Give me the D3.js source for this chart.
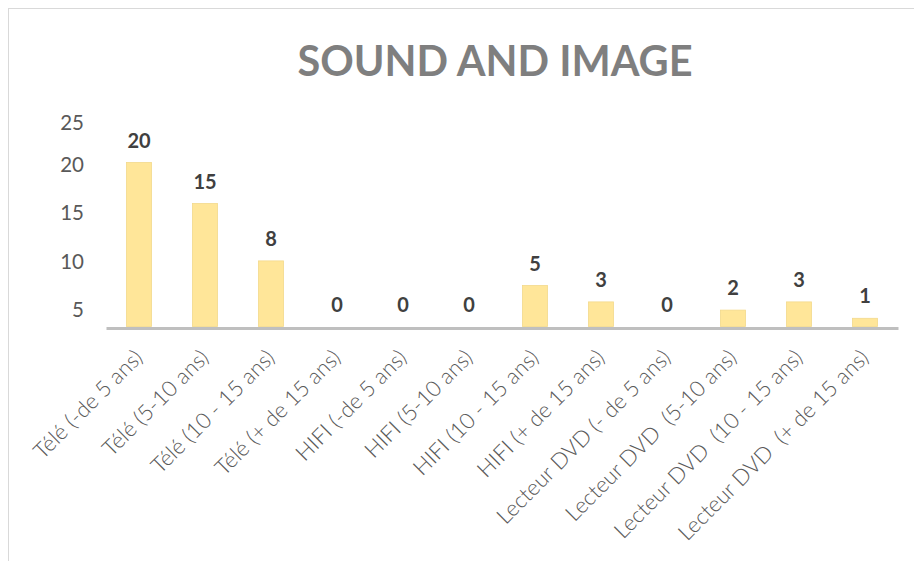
<!DOCTYPE html>
<html>
<head>
<meta charset="utf-8">
<script src="https://cdn.jsdelivr.net/npm/d3@7"></script>
<style>
  html, body { margin: 0; padding: 0; background: #ffffff; }
  svg { display: block; }
  text { font-family: Lato, "Open Sans", sans-serif; }
</style>
</head>
<body>
<svg id="chart" width="914" height="561"></svg>
<script>
// Sound & image equipment by age
const categories = [
  "Télé (-de 5 ans)",
  "Télé (5-10 ans)",
  "Télé (10 - 15 ans)",
  "Télé (+ de 15 ans)",
  "HIFI (-de 5 ans)",
  "HIFI (5-10 ans)",
  "HIFI (10 - 15 ans)",
  "HIFI (+ de 15 ans)",
  "Lecteur DVD (- de 5 ans)",
  "Lecteur DVD  (5-10 ans)",
  "Lecteur DVD  (10 - 15 ans)",
  "Lecteur DVD  (+ de 15 ans)"
];
const values = [20, 15, 8, 0, 0, 0, 5, 3, 0, 2, 3, 1];
const yTickValues = [5, 10, 15, 20, 25];
const title = "SOUND AND IMAGE";

const svg = d3.select("#chart");

// chart frame (only top and left edges fall inside the view)
svg.append("rect")
  .attr("x", 8.5).attr("y", 8.5)
  .attr("width", 1200).attr("height", 1200)
  .attr("fill", "none")
  .attr("stroke", "#d9d9d9")
  .attr("stroke-width", 1);

// title
svg.append("text")
  .attr("x", 495).attr("y", 76)
  .attr("text-anchor", "middle")
  .attr("font-size", 41.5)
  .attr("font-weight", 700)
  .attr("fill", "#7f7f7f")
  .text(title);

const x = d3.scaleBand()
  .domain(categories)
  .range([106, 898])
  .paddingInner(0.62)
  .paddingOuter(0.31);

const y = d3.scaleLinear().domain([0, 25]).range([326.5, 121.5]);

// value axis labels
const yLabels = d3.scaleLinear().domain([5, 20, 25]).range([310, 165, 123]);
const yAxis = d3.axisLeft(yLabels)
  .tickValues(yTickValues)
  .tickSize(0)
  .tickPadding(0)
  .tickFormat(d3.format("d"));
const gy = svg.append("g").attr("transform", "translate(84,0)").call(yAxis);
gy.select(".domain").remove();
gy.selectAll("text")
  .attr("font-size", 20.5)
  .attr("fill", "#595959")
  .style("font-family", "Lato, 'Open Sans', sans-serif");

// bars
svg.append("g").selectAll("rect")
  .data(values)
  .join("rect")
  .attr("x", (d, i) => x(categories[i]))
  .attr("y", d => y(d))
  .attr("width", x.bandwidth())
  .attr("height", d => y(0) - y(d))
  .attr("fill", "#ffe699")
  .attr("stroke", "#f3d98c")
  .attr("stroke-width", 0.8);

// value labels
svg.append("g").selectAll("text")
  .data(values)
  .join("text")
  .attr("x", (d, i) => x(categories[i]) + x.bandwidth() / 2)
  .attr("y", d => y(d) - 15)
  .attr("text-anchor", "middle")
  .attr("font-size", 20)
  .attr("font-weight", 700)
  .attr("fill", "#404040")
  .text(d => d);

// category axis
const xAxis = d3.axisBottom(x).tickSize(0).tickPadding(0);
const gx = svg.append("g").attr("transform", "translate(0,328)").call(xAxis);
gx.select(".domain")
  .attr("stroke", "#bfbfbf")
  .attr("stroke-width", 3);
gx.selectAll(".tick text")
  .attr("x", 0).attr("y", 0).attr("dy", null)
  .attr("transform", "translate(5,31) rotate(-45)")
  .attr("text-anchor", "end")
  .attr("font-size", 22)
  .attr("font-weight", 300)
  .attr("fill", "#595959")
  .style("font-family", "Lato, 'Open Sans', sans-serif")
  .style("white-space", "pre");
</script>
</body>
</html>
